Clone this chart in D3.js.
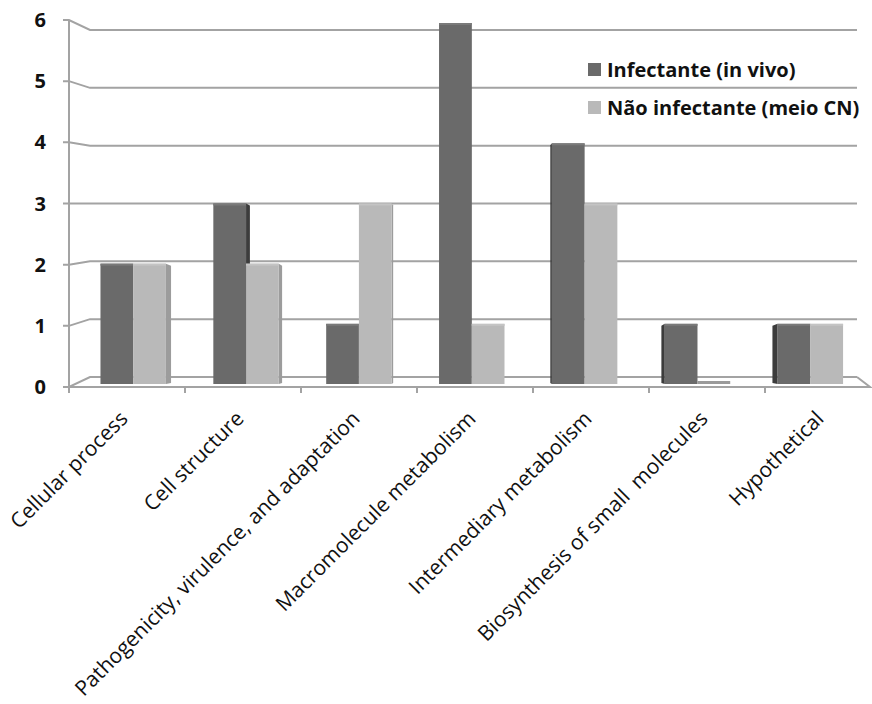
<!DOCTYPE html>
<html>
<head>
  <meta charset="utf-8">
  <script src="https://d3js.org/d3.v7.min.js"></script>
  <style>
    body { margin: 0; background: #fff; }
    .cat text { font-family: "Open Sans", sans-serif; font-size: 21px; fill: #111; white-space: pre; }
    .ytick { font-family: "Open Sans", sans-serif; font-weight: bold; font-size: 20px; fill: #111; }
    .legend text { font-family: "Open Sans", sans-serif; font-weight: bold; font-size: 20px; fill: #111; }
  </style>
</head>
<body>
<script>
  // chart values
  var categories = ["Cellular process", "Cell structure", "Pathogenicity, virulence, and adaptation",
    "Macromolecule metabolism", "Intermediary metabolism", "Biosynthesis of small  molecules", "Hypothetical"];
  var seriesNames = ["Infectante (in vivo)", "Não infectante (meio CN)"];
  var infectante = [2, 3, 1, 6, 4, 1, 1];
  var naoInfectante = [2, 2, 3, 1, 3, 0, 1];
  var yTicks = [0, 1, 2, 3, 4, 5, 6];

  var colors = ["#6a6a6a", "#b9b9b9"];
  var sideColors = ["#3c3c3c", "#9c9c9c"];
  var gridColor = "#a3a3a3";

  var width = 872, height = 704;
  var svg = d3.select("body").append("svg")
    .attr("width", width).attr("height", height);

  // front plane, back wall and mid depth (bars) scales - fake 3d
  var yFront = d3.scaleLinear().domain([0, 6]).range([387, 20]);
  var yBack = d3.scaleLinear().domain([0, 6]).range([377, 30]);
  var yBar = d3.scaleLinear().domain([0, 6]).range([384, 23]);

  var xFront = d3.scaleBand().domain(categories).range([69, 881]);
  var xBar = d3.scaleBand().domain(categories).range([70, 860]);
  var xSub = d3.scaleBand().domain([0, 1]).range([xBar.bandwidth() * 0.27, xBar.bandwidth() * 0.85]);

  var backLeft = 90, backRight = 857;

  // gridlines (front tick -> diagonal -> back wall)
  var grid = svg.append("g");
  yTicks.forEach(function (t) {
    grid.append("path")
      .attr("d", "M63," + yFront(t) + "L69," + yFront(t) + "L" + backLeft + "," + yBack(t) + "L" + backRight + "," + yBack(t))
      .attr("fill", "none").attr("stroke", gridColor).attr("stroke-width", 2);
  });
  // floor front edge and right edge
  grid.append("path")
    .attr("d", "M69," + yFront(0) + "L870," + yFront(0) + "L" + backRight + "," + yBack(0))
    .attr("fill", "none").attr("stroke", gridColor).attr("stroke-width", 2);
  // vertical axis
  grid.append("line").attr("x1", 69).attr("x2", 69)
    .attr("y1", yFront(6)).attr("y2", yFront(0) + 5)
    .attr("stroke", gridColor).attr("stroke-width", 2);
  // category ticks
  grid.selectAll(".xt").data(categories).enter().append("line")
    .attr("x1", function (d) { return xFront(d); })
    .attr("x2", function (d) { return xFront(d); })
    .attr("y1", yFront(0)).attr("y2", yFront(0) + 6)
    .attr("stroke", gridColor).attr("stroke-width", 2);

  // y tick labels
  svg.selectAll(".ytick").data(yTicks).enter().append("text")
    .attr("class", "ytick")
    .attr("x", 46).attr("y", function (d) { return yFront(d) + 7; })
    .attr("text-anchor", "end")
    .text(function (d) { return d; });

  // bars
  var cx = 470;
  var bars = svg.append("g");
  categories.forEach(function (c, i) {
    var pair = [infectante[i], naoInfectante[i]];
    pair.forEach(function (v, s) {
      var x0 = xBar(c) + xSub(s), w = xSub.bandwidth();
      var top = yBar(v), bot = yBar(0);
      if (v === 0) top = bot - 3;
      var mid = x0 + w / 2;
      var sw = Math.min(6, Math.abs(cx - mid) * 0.016);
      // side face, only where it is not hidden by the neighbour bar
      var sx = mid < cx ? x0 + w : x0;
      var dir = mid < cx ? 1 : -1;
      if (v > 0 && (s === 1 && dir === 1 || s === 0 && dir === -1 || v > pair[1 - s])) {
        bars.append("path")
          .attr("d", "M" + sx + "," + top + "L" + (sx + dir * sw) + "," + (top + 2) +
            "L" + (sx + dir * sw) + "," + (bot - 1) + "L" + sx + "," + bot + "Z")
          .attr("fill", sideColors[s]);
      }
      bars.append("rect")
        .attr("x", x0).attr("y", top)
        .attr("width", w).attr("height", bot - top)
        .attr("fill", v === 0 ? "#9a9a9a" : colors[s]);
      // thin top edge
      if (v > 0) {
        bars.append("rect").attr("x", x0).attr("y", top)
          .attr("width", w).attr("height", 2)
          .attr("fill", s === 0 ? "#7a7a7a" : "#c4c4c4");
      }
    });
  });

  // category labels
  var cat = svg.append("g").attr("class", "cat");
  cat.selectAll("text").data(categories).enter().append("text")
    .attr("text-anchor", "end")
    .attr("transform", function (d) {
      return "translate(" + (xFront(d) + xFront.bandwidth() / 2 + 2) + "," + 420 + ") rotate(-45)";
    })
    .text(function (d) { return d; });

  // legend
  var legend = svg.append("g").attr("class", "legend");
  seriesNames.forEach(function (n, i) {
    legend.append("rect").attr("x", 588).attr("y", 63 + i * 38)
      .attr("width", 13).attr("height", 13).attr("fill", colors[i]);
    legend.append("text").attr("x", 607).attr("y", 77 + i * 38).text(n);
  });
</script>
</body>
</html>
